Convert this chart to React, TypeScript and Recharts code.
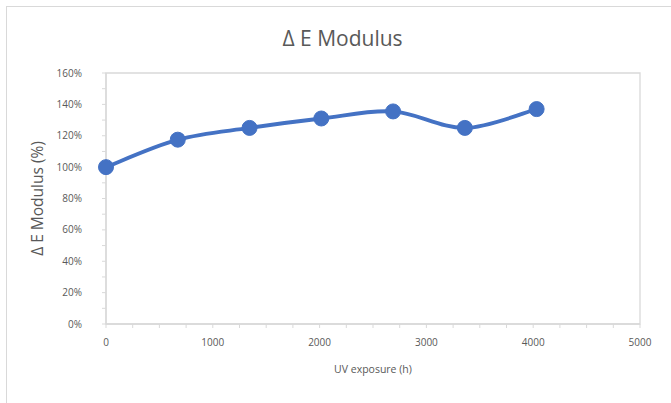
import React from 'react';
import { LineChart, Line, XAxis, YAxis, ReferenceArea } from 'recharts';

const hours = [0, 672, 1344, 2016, 2688, 3360, 4032];
const modulus = [100, 117.5, 125, 131, 135.5, 125, 137];
const xTicks = [0, 250, 500, 750, 1000, 1250, 1500, 1750, 2000, 2250, 2500, 2750, 3000, 3250, 3500, 3750, 4000, 4250, 4500, 4750, 5000];
const xLabelTicks = [0, 1000, 2000, 3000, 4000, 5000];
const yTicks = [0, 10, 20, 30, 40, 50, 60, 70, 80, 90, 100, 110, 120, 130, 140, 150, 160];
const yLabelTicks = [0, 20, 40, 60, 80, 100, 120, 140, 160];

const data = hours.map((h, i) => ({ h, v: modulus[i] }));

const FONT = 'Open Sans, Liberation Sans, sans-serif';
const TEXT = '#595959';
const AXIS = '#d9d9d9';

// Excel-like smoothed line (Catmull-Rom, tension 1/6 bezier)
class SmoothCurve {
  ctx: any;
  pts: [number, number][] = [];
  constructor(ctx: any) { this.ctx = ctx; }
  areaStart() {}
  areaEnd() {}
  lineStart() { this.pts = []; }
  point(x: number, y: number) { this.pts.push([+x, +y]); }
  lineEnd() {
    const p = this.pts;
    if (!p.length) return;
    this.ctx.moveTo(p[0][0], p[0][1]);
    for (let i = 0; i < p.length - 1; i++) {
      const p0 = p[i - 1] || p[i];
      const p1 = p[i];
      const p2 = p[i + 1];
      const p3 = p[i + 2] || p[i + 1];
      const c1x = p1[0] + (p2[0] - p0[0]) / 6;
      const c1y = p1[1] + (p2[1] - p0[1]) / 6;
      const c2x = p2[0] - (p3[0] - p1[0]) / 6;
      const c2y = p2[1] - (p3[1] - p1[1]) / 6;
      this.ctx.bezierCurveTo(c1x, c1y, c2x, c2y, p2[0], p2[1]);
    }
  }
}
const smooth: any = (ctx: any) => new SmoothCurve(ctx);

const XTick = (props: any) => {
  const { x, y, payload } = props;
  const show = xLabelTicks.includes(payload.value);
  return (
    <g>
      {show && (
        <text x={x} y={y + 16} textAnchor="middle" fill={TEXT} fontSize={10} fontFamily={FONT}>
          {payload.value}
        </text>
      )}
    </g>
  );
};

const YTick = (props: any) => {
  const { x, y, payload } = props;
  const show = yLabelTicks.includes(payload.value);
  return (
    <g>
      {show && (
        <text x={x - 18} y={y + 3.5} textAnchor="end" fill={TEXT} fontSize={10} fontFamily={FONT}>
          {payload.value + '%'}
        </text>
      )}
    </g>
  );
};

export default function App() {
  return (
    <div style={{ position: 'absolute', left: 0, top: 0, width: 671, height: 403, overflow: 'hidden', background: '#fff' }}>
      <div style={{ position: 'absolute', left: 6, top: 6, width: 700, height: 420, border: '1px solid #d9d9d9', boxSizing: 'border-box' }} />
      <div style={{ position: 'absolute', left: 0, top: 24, width: 685, textAlign: 'center', fontFamily: FONT, fontSize: 21, color: TEXT, lineHeight: '28px' }}>
        Δ E Modulus
      </div>
      <div style={{ position: 'absolute', left: 0, top: 0 }}>
        <LineChart width={671} height={403} data={data} margin={{ top: 73, right: 31, left: 0, bottom: 0 }}>
          <XAxis
            dataKey="h"
            type="number"
            domain={[0, 5000]}
            ticks={xTicks}
            interval={0}
            height={79}
            axisLine={{ stroke: AXIS, strokeWidth: 1.3 }}
            tickLine={{ stroke: AXIS }}
            tickSize={4}
            tick={<XTick />}
            label={{ value: 'UV exposure (h)', position: 'insideTop', offset: 42, fill: TEXT, fontSize: 10.5, fontFamily: FONT }}
          />
          <YAxis
            type="number"
            domain={[0, 160]}
            ticks={yTicks}
            interval={0}
            width={106}
            axisLine={{ stroke: AXIS, strokeWidth: 1.3 }}
            tickLine={{ stroke: AXIS }}
            tickSize={4}
            tick={<YTick />}
            label={{ value: 'Δ E Modulus (%)', angle: -90, position: 'insideLeft', offset: 37, fill: TEXT, fontSize: 15.5, fontFamily: FONT, style: { textAnchor: 'middle' } }}
          />
          <ReferenceArea x1={0} x2={5000} y1={0} y2={160} fill="none" stroke={AXIS} strokeWidth={1.3} />
          <Line
            dataKey="v"
            type={smooth}
            stroke="#4472C4"
            strokeWidth={3.8}
            dot={{ r: 7.5, fill: '#4472C4', stroke: '#4472C4', strokeWidth: 1 }}
            isAnimationActive={false}
          />
        </LineChart>
      </div>
    </div>
  );
}
